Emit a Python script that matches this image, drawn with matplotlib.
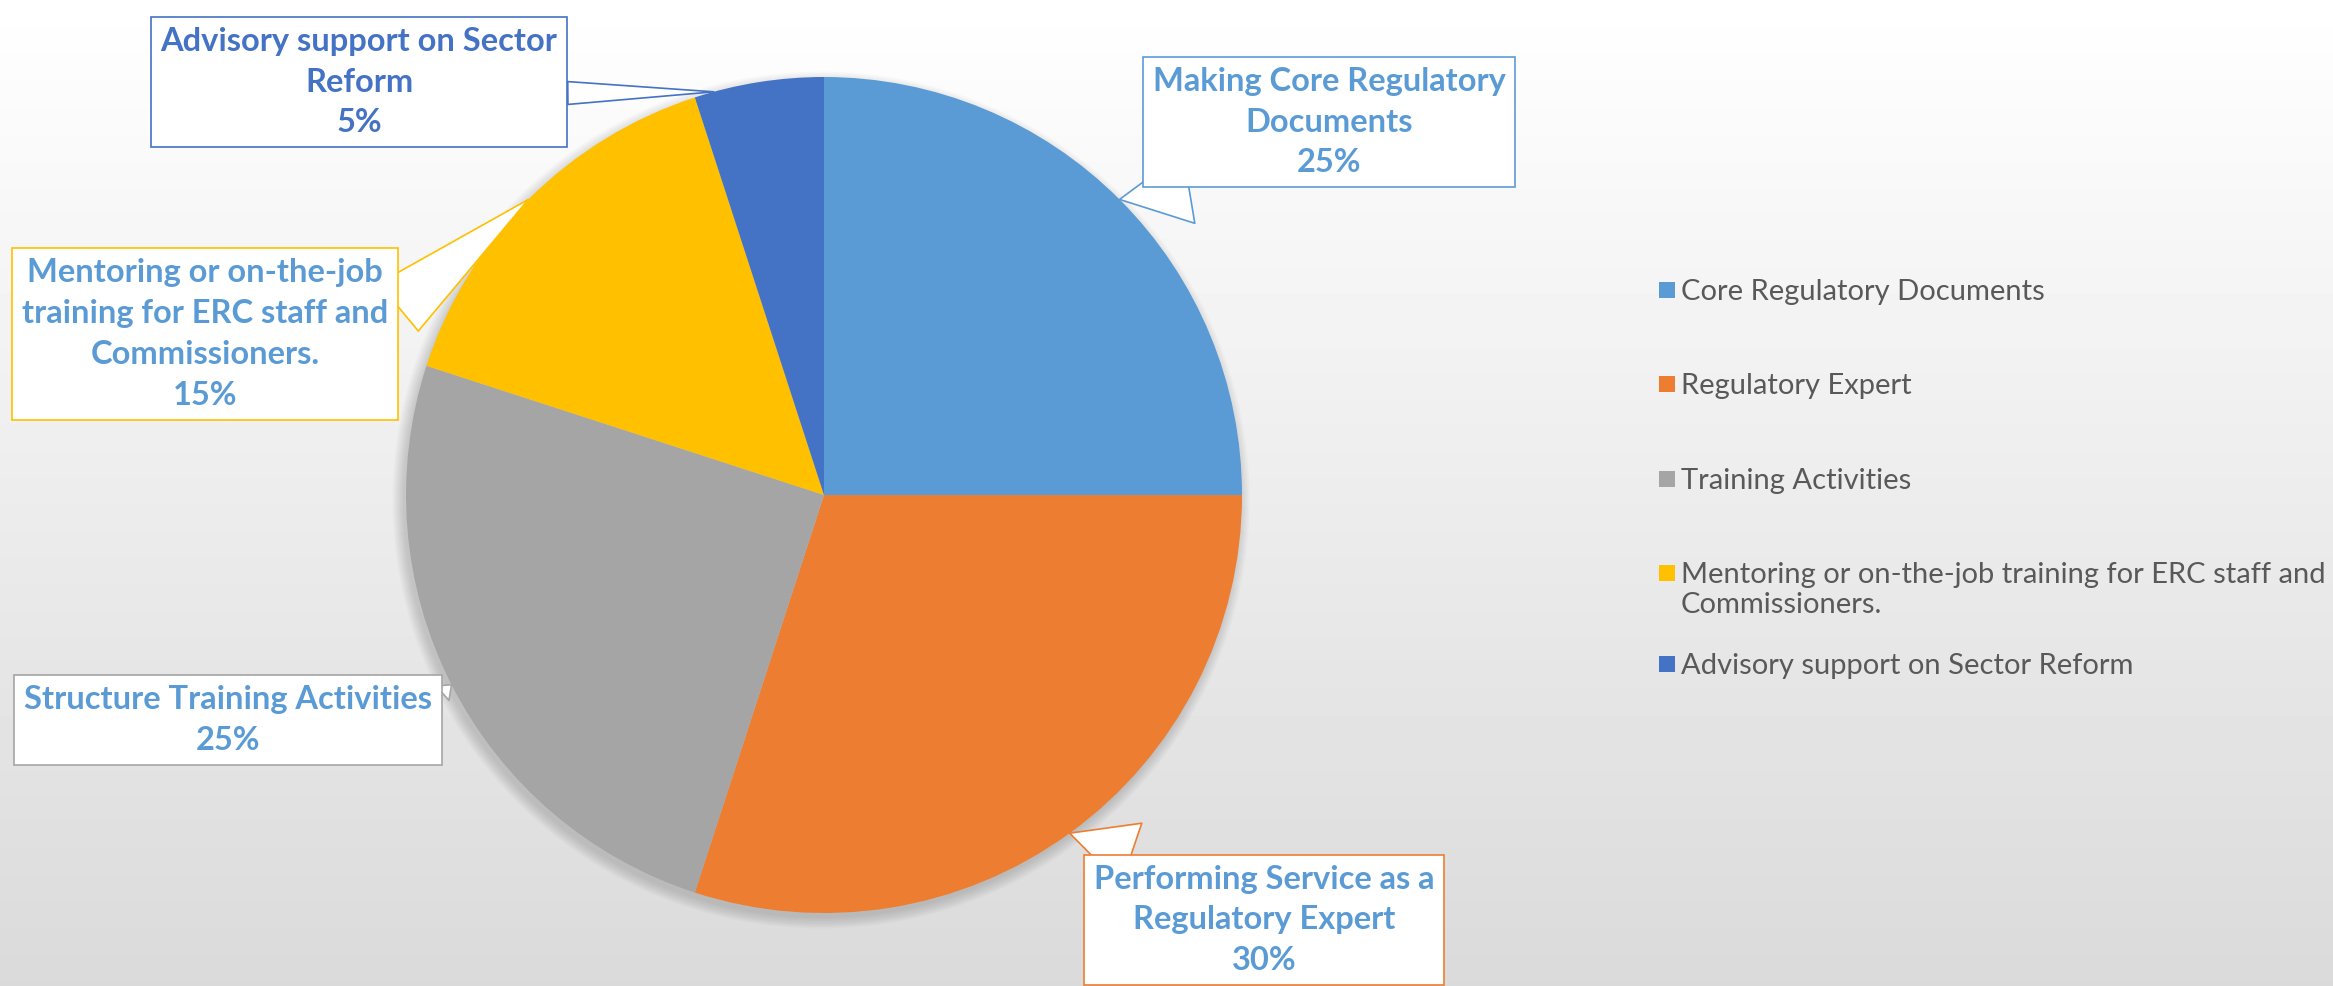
import matplotlib.pyplot as plt
import numpy as np
from matplotlib.patches import Circle, Rectangle

# legend names and shares of each activity (%)
categories = ['Core Regulatory Documents',
              'Regulatory Expert',
              'Training Activities',
              'Mentoring or on-the-job training for ERC staff and\nCommissioners.',
              'Advisory support on Sector Reform']
shares = [25, 30, 25, 15, 5]

# callout texts shown next to the slices
callout_names = ['Making Core Regulatory\nDocuments',
                 'Performing Service as a\nRegulatory Expert',
                 'Structure Training Activities',
                 'Mentoring or on-the-job\ntraining for ERC staff and\nCommissioners.',
                 'Advisory support on Sector\nReform']

colors = ['#5B9BD5', '#ED7D31', '#A5A5A5', '#FFC000', '#4472C4']
text_colors = ['#5B9BD5', '#5B9BD5', '#5B9BD5', '#5B9BD5', '#4472C4']

W, H = 2333, 986
fig = plt.figure(figsize=(W / 100, H / 100), dpi=100)
ax = fig.add_axes([0, 0, 1, 1])

# light grey vertical gradient behind everything
grad = np.linspace(1.0, 0.855, 256).reshape(-1, 1)
ax.imshow(grad, extent=(0, W, 0, H), aspect='auto', cmap='gray',
          vmin=0, vmax=1, zorder=0)

center = (824, 491)
radius = 418

# soft shadow under the pie
for i in range(8):
    ax.add_patch(Circle((center[0] - 3, center[1] - 5), radius + i * 1.5,
                        color='black', alpha=0.018, lw=0, zorder=1))

wedges, _ = ax.pie(shares, colors=colors, startangle=90, counterclock=False,
                   center=center, radius=radius,
                   wedgeprops=dict(linewidth=0, zorder=2))

# where each callout sits, where along its slice (0..1) it points,
# and from which side of the box the pointer leaves
box_pos = [(1329, 864), (1264, 66), (228, 266), (205, 652), (359, 904)]
tip_frac = [0.5, 0.5, 0.5, 0.5, 0.85]
tail_w = [2.2, 2.0, 0.6, 1.9, 0.7]
rel = [(0.28, 0.0), (0.2, 1.0), (1.0, 0.75), (1.0, 0.62), (1.0, 0.4)]

for i, w in enumerate(wedges):
    ang = np.deg2rad(w.theta1 + (w.theta2 - w.theta1) * tip_frac[i])
    tip = (center[0] + radius * np.cos(ang), center[1] + radius * np.sin(ang))
    txt = '%s\n%d%%' % (callout_names[i], shares[i])
    ax.annotate(txt, xy=tip, xytext=box_pos[i], textcoords='data',
                ha='center', va='center', fontsize=23.5, fontweight='bold',
                family='Lato', color=text_colors[i], linespacing=1.5,
                bbox=dict(boxstyle='square,pad=0.3', fc='white',
                          ec=colors[i], lw=1.2),
                arrowprops=dict(arrowstyle='wedge,tail_width=%s,shrink_factor=0.5' % tail_w[i],
                                fc='white', ec=colors[i], lw=1.2,
                                shrinkA=0, shrinkB=0, relpos=rel[i]),
                zorder=5)

# legend, drawn entry by entry so the wrapped entry lines up like the original
legend_y = [696, 602, 507, 413, 322]
for name, col, y in zip(categories, colors, legend_y):
    ax.add_patch(Rectangle((1659, y - 8), 16, 16, color=col, lw=0, zorder=4))
    ax.text(1681, y + 11, name, ha='left', va='top', fontsize=21,
            family='Lato', color='#595959', linespacing=1.2, zorder=4)

ax.set_xlim(0, W)
ax.set_ylim(0, H)
ax.set_aspect('equal')
ax.axis('off')

fig.savefig('out.png', dpi=100)
